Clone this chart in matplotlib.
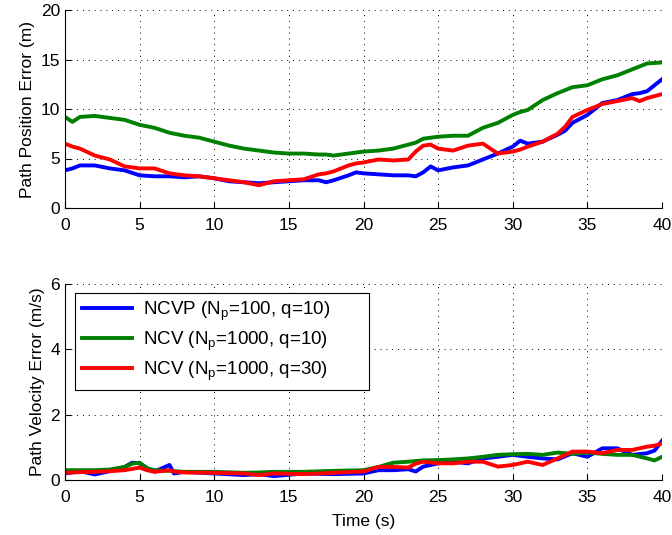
import matplotlib.pyplot as plt

plt.rcParams['font.family'] = ['Liberation Sans', 'DejaVu Sans']
plt.rcParams['mathtext.fontset'] = 'custom'
plt.rcParams['mathtext.rm'] = 'Liberation Sans'

# Top: path position error (m)
t_pos = [0, 0.5, 1, 2, 3, 4, 5, 6, 7, 8, 9, 10, 11, 12, 13, 14, 15, 16, 17, 17.5, 18, 19, 19.5,
         20, 21, 22, 23, 23.5, 24, 24.5, 25, 26, 27, 28, 29, 30, 30.5, 31, 32, 33, 33.5, 34,
         35, 36, 37, 38, 38.5, 39, 40]
pos_ncvp = [3.8, 4.0, 4.3, 4.3, 4.0, 3.8, 3.3, 3.2, 3.2, 3.1, 3.2, 3.0, 2.7, 2.6, 2.5, 2.6, 2.7,
            2.8, 2.8, 2.6, 2.8, 3.3, 3.6, 3.5, 3.4, 3.3, 3.3, 3.2, 3.6, 4.2, 3.8, 4.1, 4.3, 4.9,
            5.5, 6.2, 6.8, 6.5, 6.7, 7.4, 7.8, 8.6, 9.4, 10.6, 10.9, 11.5, 11.6, 11.8, 13.0]
pos_ncv10 = [9.2, 8.7, 9.2, 9.3, 9.1, 8.9, 8.4, 8.1, 7.6, 7.3, 7.1, 6.7, 6.3, 6.0, 5.8, 5.6,
             5.5, 5.5, 5.4, 5.4, 5.3, 5.5, 5.6, 5.7, 5.8, 6.0, 6.4, 6.6, 7.0, 7.1, 7.2, 7.3,
             7.3, 8.1, 8.6, 9.4, 9.7, 9.9, 10.9, 11.6, 11.9, 12.2, 12.4, 13.0, 13.4, 14.0,
             14.3, 14.6, 14.7]
pos_ncv30 = [6.5, 6.2, 6.0, 5.3, 4.9, 4.2, 4.0, 4.0, 3.5, 3.3, 3.2, 3.0, 2.8, 2.6, 2.3, 2.7,
             2.8, 2.9, 3.4, 3.5, 3.7, 4.3, 4.5, 4.6, 4.9, 4.8, 4.9, 5.7, 6.3, 6.4, 6.0, 5.8,
             6.3, 6.5, 5.5, 5.7, 5.9, 6.2, 6.7, 7.5, 8.2, 9.2, 9.9, 10.5, 10.8, 11.1, 10.8,
             11.1, 11.5]

# Bottom: path velocity error (m/s)
t_vel = [0, 1, 2, 3, 4, 4.5, 5, 5.5, 6, 7, 7.3, 8, 10, 12, 13, 14, 16, 18, 20, 21, 22, 23,
         23.5, 24, 25, 26, 27, 28, 29, 30, 31, 32, 33, 34, 35, 36, 37, 38, 39, 39.5, 40]
vel_ncvp = [0.2, 0.27, 0.17, 0.27, 0.4, 0.53, 0.51, 0.36, 0.26, 0.46, 0.2, 0.25, 0.2, 0.15,
            0.18, 0.12, 0.2, 0.18, 0.2, 0.3, 0.3, 0.33, 0.26, 0.41, 0.51, 0.56, 0.51, 0.66,
            0.71, 0.77, 0.71, 0.66, 0.63, 0.82, 0.71, 0.97, 0.97, 0.77, 0.82, 0.9, 1.2]
vel_ncv10 = [0.3, 0.3, 0.3, 0.32, 0.4, 0.5, 0.53, 0.36, 0.3, 0.28, 0.27, 0.25, 0.25, 0.22,
             0.23, 0.25, 0.25, 0.28, 0.3, 0.4, 0.53, 0.56, 0.58, 0.6, 0.61, 0.63, 0.66, 0.71,
             0.77, 0.79, 0.8, 0.77, 0.84, 0.8, 0.84, 0.8, 0.77, 0.77, 0.66, 0.6, 0.71]
vel_ncv30 = [0.22, 0.24, 0.25, 0.27, 0.3, 0.34, 0.38, 0.3, 0.25, 0.3, 0.26, 0.23, 0.22, 0.2,
             0.15, 0.2, 0.18, 0.22, 0.26, 0.4, 0.4, 0.38, 0.5, 0.56, 0.51, 0.51, 0.56, 0.56,
             0.41, 0.46, 0.56, 0.46, 0.66, 0.87, 0.87, 0.82, 0.92, 0.92, 1.02, 1.05, 1.12]

labels = ['NCVP (N$_\\mathregular{p}$=100, q=10)',
          'NCV (N$_\\mathregular{p}$=1000, q=10)',
          'NCV (N$_\\mathregular{p}$=1000, q=30)']
colors = ['#0000ff', '#008000', '#ff0000']

fig = plt.figure(figsize=(6.72, 5.35), dpi=100)
ax1 = fig.add_axes([65/672, 1-208/535, 597/672, 198/535])
ax2 = fig.add_axes([65/672, 1-480/535, 597/672, 196/535])

for ax, t, series, ylim, yticks in [
        (ax1, t_pos, [pos_ncvp, pos_ncv10, pos_ncv30], (0, 20), [0, 5, 10, 15, 20]),
        (ax2, t_vel, [vel_ncvp, vel_ncv10, vel_ncv30], (0, 6), [0, 2, 4, 6])]:
    for y, c, lab in zip(series, colors, labels):
        ax.plot(t, y, color=c, lw=2.8, label=lab)
    ax.set_xlim(0, 40)
    ax.set_ylim(*ylim)
    ax.set_xticks(range(0, 41, 5))
    ax.set_yticks(yticks)
    ax.grid(True, color='black', linestyle=(0, (1, 5)), lw=0.7)
    ax.spines['top'].set_visible(False)
    ax.spines['right'].set_visible(False)
    ax.tick_params(direction='in', length=4, labelsize=12.5, top=False, right=False)
    ax.tick_params(axis='x', pad=7)

ax1.set_ylabel('Path Position Error (m)', fontsize=12.5, labelpad=4)
ax2.set_ylabel('Path Velocity Error (m/s)', fontsize=12.5, labelpad=4)
ax2.set_xlabel('Time (s)', fontsize=12.5, labelpad=7)

leg = ax2.legend(loc='upper left', fontsize=13.5, fancybox=False, framealpha=1,
                 edgecolor='black', handlelength=2.7, handletextpad=0.55, borderpad=0.35,
                 labelspacing=0.35, mode='expand', borderaxespad=0,
                 bbox_to_anchor=(0.017, 0.5, 0.493, 0.455))
leg.get_frame().set_linewidth(0.8)

fig.savefig('out.png', dpi=100)
